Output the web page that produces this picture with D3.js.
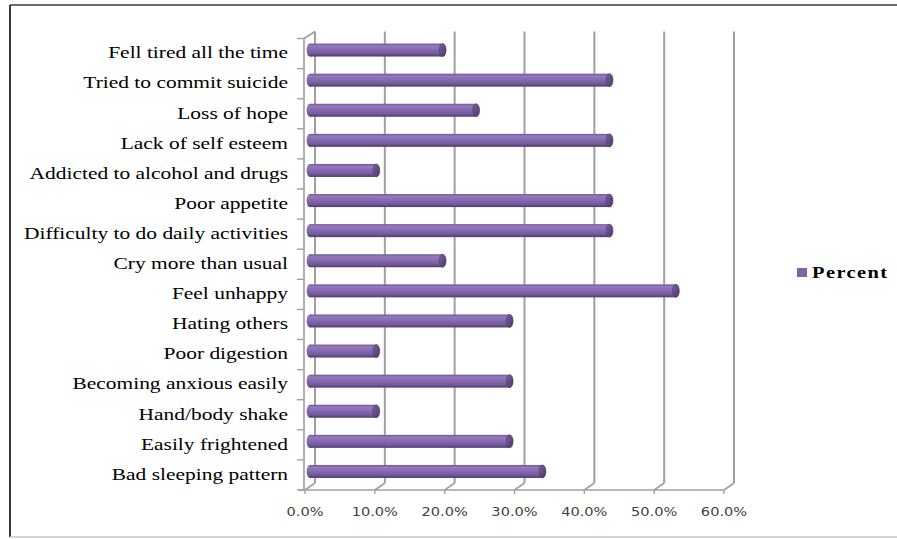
<!DOCTYPE html>
<html>
<head>
<meta charset="utf-8">
<script src="https://cdn.jsdelivr.net/npm/d3@7"></script>
<style>
  html, body { margin: 0; padding: 0; background: #fff; }
  svg { display: block; }
</style>
</head>
<body>
<svg id="chart" width="897" height="539"></svg>
<script>
// Symptoms, listed top to bottom as they appear on the chart
const categories = [
  "Fell tired all the time",
  "Tried to commit suicide",
  "Loss of hope",
  "Lack of self esteem",
  "Addicted to alcohol and drugs",
  "Poor appetite",
  "Difficulty to do daily activities",
  "Cry more than usual",
  "Feel unhappy",
  "Hating others",
  "Poor digestion",
  "Becoming anxious easily",
  "Hand/body shake",
  "Easily frightened",
  "Bad sleeping pattern"
];
// Percent of respondents reporting each symptom
const percent = [19.0, 42.9, 23.8, 42.9, 9.5, 42.9, 42.9, 19.0, 52.4, 28.6, 9.5, 28.6, 9.5, 28.6, 33.3];
const xTicks = [0, 10, 20, 30, 40, 50, 60];
const seriesName = "Percent";

const svg = d3.select("#chart");

// Outer frame
svg.append("line").attr("x1", 10).attr("y1", 5).attr("x2", 897).attr("y2", 5)
  .attr("stroke", "#3a3a3a").attr("stroke-width", 1.5);
svg.append("line").attr("x1", 10).attr("y1", 5).attr("x2", 10).attr("y2", 537)
  .attr("stroke", "#3a3a3a").attr("stroke-width", 2);
svg.append("line").attr("x1", 10).attr("y1", 537).attr("x2", 897).attr("y2", 537)
  .attr("stroke", "#c8c8c8").attr("stroke-width", 1.5);

// Front plane scales plus a depth offset for the back wall (oblique 3D)
const x = d3.scaleLinear().domain([0, 60]).range([305, 724]);
const y = d3.scaleBand().domain(categories).range([38.5, 490]).padding(0);
const depthX = 10, depthY = -7;
const floorY = y.range()[1];
const topY = y.range()[0];
const gridColor = "#a0a0a0";

const grid = svg.append("g");
// Back-wall vertical gridlines and floor diagonals
xTicks.forEach(t => {
  const xf = x(t), xb = x(t) + depthX;
  grid.append("line")
    .attr("x1", xb).attr("y1", topY + depthY).attr("x2", xb).attr("y2", floorY + depthY)
    .attr("stroke", gridColor).attr("stroke-width", 2);
  grid.append("line")
    .attr("x1", xf).attr("y1", floorY).attr("x2", xb).attr("y2", floorY + depthY)
    .attr("stroke", gridColor).attr("stroke-width", 1.6);
  // tick mark under floor edge
  grid.append("line")
    .attr("x1", xf).attr("y1", floorY).attr("x2", xf).attr("y2", floorY + 4)
    .attr("stroke", gridColor).attr("stroke-width", 1.4);
});
// Floor front edge
grid.append("line")
  .attr("x1", x(0) - 6).attr("y1", floorY).attr("x2", x(60)).attr("y2", floorY)
  .attr("stroke", gridColor).attr("stroke-width", 1.6);
// Left wall front edge and top diagonal
grid.append("line")
  .attr("x1", x(0) - 1).attr("y1", topY).attr("x2", x(0) - 1).attr("y2", floorY)
  .attr("stroke", gridColor).attr("stroke-width", 1.6);
grid.append("line")
  .attr("x1", x(0) - 1).attr("y1", topY).attr("x2", x(0) + depthX).attr("y2", topY + depthY)
  .attr("stroke", gridColor).attr("stroke-width", 1.6);
// Category boundary ticks on the left wall
d3.range(categories.length + 1).forEach(i => {
  const yy = topY + i * y.step();
  grid.append("line")
    .attr("x1", x(0) - 8).attr("y1", yy).attr("x2", x(0) - 1).attr("y2", yy)
    .attr("stroke", gridColor).attr("stroke-width", 1.4);
});

// Cylinder shading
const defs = svg.append("defs");
const grad = defs.append("linearGradient").attr("id", "cyl")
  .attr("x1", 0).attr("y1", 0).attr("x2", 0).attr("y2", 1);
[[0, "#6f5694"], [0.18, "#9479bd"], [0.4, "#8a6db5"], [0.75, "#765b9f"], [1, "#4f3c6c"]]
  .forEach(([o, c]) => grad.append("stop").attr("offset", o).attr("stop-color", c));
const capGrad = defs.append("linearGradient").attr("id", "cap")
  .attr("x1", 0).attr("y1", 0).attr("x2", 1).attr("y2", 1);
[[0, "#7a62a0"], [1, "#4a3866"]]
  .forEach(([o, c]) => capGrad.append("stop").attr("offset", o).attr("stop-color", c));

const barH = 13;
const capR = 3.4;
const bars = svg.append("g").selectAll("g").data(categories).join("g");
bars.each(function(c, i) {
  const g = d3.select(this);
  const cy = y(c) + y.bandwidth() / 2 + depthY / 2;
  const x0 = x(0) + depthX / 2;
  const x1 = x(percent[i]) + depthX / 2;
  // left rounded end
  g.append("ellipse").attr("cx", x0).attr("cy", cy).attr("rx", capR).attr("ry", barH / 2)
    .attr("fill", "url(#cyl)");
  g.append("rect").attr("x", x0).attr("y", cy - barH / 2)
    .attr("width", Math.max(0, x1 - x0)).attr("height", barH)
    .attr("fill", "url(#cyl)");
  // right end cap
  g.append("ellipse").attr("cx", x1).attr("cy", cy).attr("rx", capR).attr("ry", barH / 2)
    .attr("fill", "url(#cap)").attr("stroke", "#4a3866").attr("stroke-width", 0.6);
});

// Category labels
svg.append("g").selectAll("text").data(categories).join("text")
  .attr("transform", c => `translate(288,${y(c) + y.bandwidth() / 2 + 1}) scale(1.3,1)`)
  .attr("text-anchor", "end")
  .attr("dominant-baseline", "middle")
  .attr("font-family", "'Liberation Serif', 'Times New Roman', serif")
  .attr("font-size", 16.5)
  .attr("fill", "#000")
  .text(c => c);

// Value axis labels
svg.append("g").selectAll("text").data(xTicks).join("text")
  .attr("transform", t => `translate(${x(t)},${floorY + 22}) scale(1.12,1)`)
  .attr("text-anchor", "middle")
  .attr("dominant-baseline", "middle")
  .attr("font-family", "'DejaVu Sans', Verdana, sans-serif")
  .attr("font-size", 13)
  .attr("fill", "#404040")
  .text(t => d3.format(".1f")(t) + "%");

// Legend
const legend = svg.append("g");
legend.append("rect").attr("x", 797).attr("y", 268).attr("width", 10).attr("height", 9)
  .attr("fill", "#8064a2");
legend.append("text")
  .attr("transform", "translate(812,278) scale(1.2,1)")
  .attr("font-family", "'Liberation Serif', 'Times New Roman', serif")
  .attr("font-weight", "bold")
  .attr("font-size", 17)
  .attr("letter-spacing", 1.2)
  .attr("fill", "#000")
  .text(seriesName);
</script>
</body>
</html>
